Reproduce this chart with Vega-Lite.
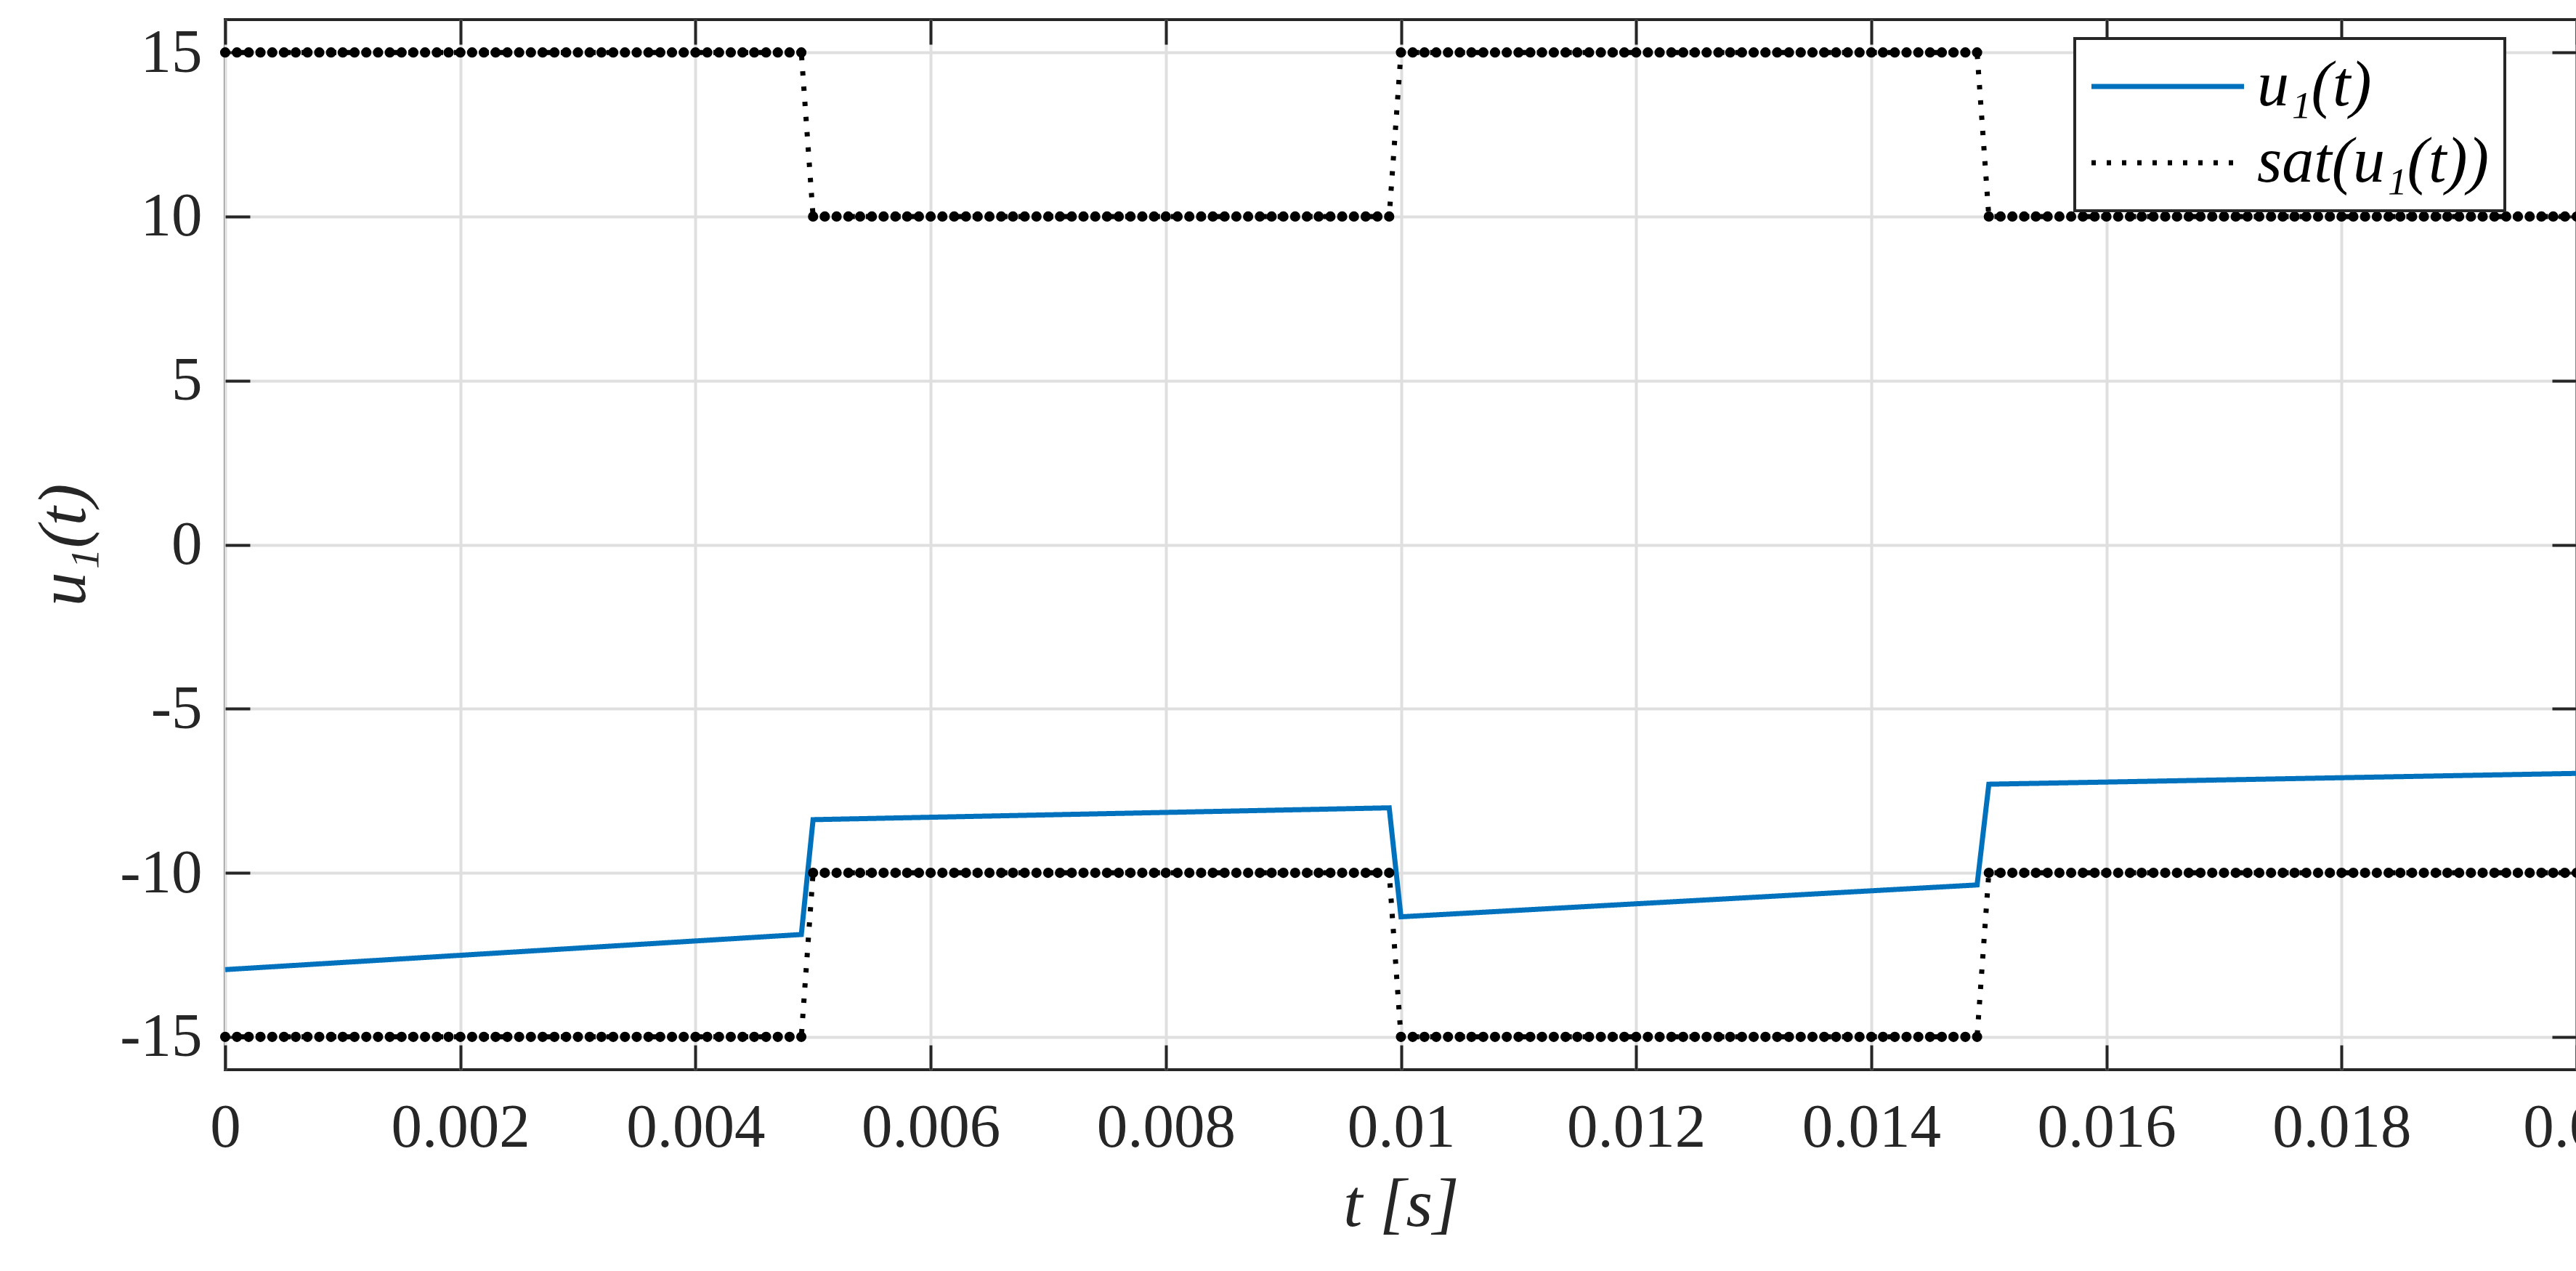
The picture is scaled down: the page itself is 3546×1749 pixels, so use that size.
{
"$schema": "https://vega.github.io/schema/vega-lite/v6.json",
"autosize": {"type": "none"},
"width": 3237,
"height": 1445,
"padding": {"left": 310, "top": 27, "right": 0, "bottom": 277},
"background": "white",
"config": {
  "view": {"stroke": "#262626", "strokeWidth": 4},
  "font": "Liberation Serif",
  "axis": {"labelFont": "Liberation Serif", "labelFontSize": 85, "labelColor": "#262626", "labelLimit": 0, "titleFont": "Liberation Serif", "titleFontSize": 94, "titleFontStyle": "italic", "titleFontWeight": "normal", "titleColor": "#262626", "domain": false, "tickColor": "#262626", "tickWidth": 4, "tickSize": -34, "gridColor": "#DFDFDF", "gridWidth": 4, "gridOpacity": 1},
  "legend": {"strokeWidth": 4}
},
"datasets": {
  "u": [{"t":0,"v":-12.95},{"t":0.0049,"v":-11.88},{"t":0.005,"v":-8.38},{"t":0.0099,"v":-8.02},{"t":0.01,"v":-11.34},{"t":0.0149,"v":-10.37},{"t":0.015,"v":-7.3},{"t":0.02,"v":-6.97}],
  "sat": [
{"t":0.0000,"hi":15,"lo":-15},{"t":0.0001,"hi":15,"lo":-15},{"t":0.0002,"hi":15,"lo":-15},{"t":0.0003,"hi":15,"lo":-15},{"t":0.0004,"hi":15,"lo":-15},{"t":0.0005,"hi":15,"lo":-15},{"t":0.0006,"hi":15,"lo":-15},{"t":0.0007,"hi":15,"lo":-15},{"t":0.0008,"hi":15,"lo":-15},{"t":0.0009,"hi":15,"lo":-15},
{"t":0.0010,"hi":15,"lo":-15},{"t":0.0011,"hi":15,"lo":-15},{"t":0.0012,"hi":15,"lo":-15},{"t":0.0013,"hi":15,"lo":-15},{"t":0.0014,"hi":15,"lo":-15},{"t":0.0015,"hi":15,"lo":-15},{"t":0.0016,"hi":15,"lo":-15},{"t":0.0017,"hi":15,"lo":-15},{"t":0.0018,"hi":15,"lo":-15},{"t":0.0019,"hi":15,"lo":-15},
{"t":0.0020,"hi":15,"lo":-15},{"t":0.0021,"hi":15,"lo":-15},{"t":0.0022,"hi":15,"lo":-15},{"t":0.0023,"hi":15,"lo":-15},{"t":0.0024,"hi":15,"lo":-15},{"t":0.0025,"hi":15,"lo":-15},{"t":0.0026,"hi":15,"lo":-15},{"t":0.0027,"hi":15,"lo":-15},{"t":0.0028,"hi":15,"lo":-15},{"t":0.0029,"hi":15,"lo":-15},
{"t":0.0030,"hi":15,"lo":-15},{"t":0.0031,"hi":15,"lo":-15},{"t":0.0032,"hi":15,"lo":-15},{"t":0.0033,"hi":15,"lo":-15},{"t":0.0034,"hi":15,"lo":-15},{"t":0.0035,"hi":15,"lo":-15},{"t":0.0036,"hi":15,"lo":-15},{"t":0.0037,"hi":15,"lo":-15},{"t":0.0038,"hi":15,"lo":-15},{"t":0.0039,"hi":15,"lo":-15},
{"t":0.0040,"hi":15,"lo":-15},{"t":0.0041,"hi":15,"lo":-15},{"t":0.0042,"hi":15,"lo":-15},{"t":0.0043,"hi":15,"lo":-15},{"t":0.0044,"hi":15,"lo":-15},{"t":0.0045,"hi":15,"lo":-15},{"t":0.0046,"hi":15,"lo":-15},{"t":0.0047,"hi":15,"lo":-15},{"t":0.0048,"hi":15,"lo":-15},{"t":0.0049,"hi":15,"lo":-15},
{"t":0.0050,"hi":10,"lo":-10},{"t":0.0051,"hi":10,"lo":-10},{"t":0.0052,"hi":10,"lo":-10},{"t":0.0053,"hi":10,"lo":-10},{"t":0.0054,"hi":10,"lo":-10},{"t":0.0055,"hi":10,"lo":-10},{"t":0.0056,"hi":10,"lo":-10},{"t":0.0057,"hi":10,"lo":-10},{"t":0.0058,"hi":10,"lo":-10},{"t":0.0059,"hi":10,"lo":-10},
{"t":0.0060,"hi":10,"lo":-10},{"t":0.0061,"hi":10,"lo":-10},{"t":0.0062,"hi":10,"lo":-10},{"t":0.0063,"hi":10,"lo":-10},{"t":0.0064,"hi":10,"lo":-10},{"t":0.0065,"hi":10,"lo":-10},{"t":0.0066,"hi":10,"lo":-10},{"t":0.0067,"hi":10,"lo":-10},{"t":0.0068,"hi":10,"lo":-10},{"t":0.0069,"hi":10,"lo":-10},
{"t":0.0070,"hi":10,"lo":-10},{"t":0.0071,"hi":10,"lo":-10},{"t":0.0072,"hi":10,"lo":-10},{"t":0.0073,"hi":10,"lo":-10},{"t":0.0074,"hi":10,"lo":-10},{"t":0.0075,"hi":10,"lo":-10},{"t":0.0076,"hi":10,"lo":-10},{"t":0.0077,"hi":10,"lo":-10},{"t":0.0078,"hi":10,"lo":-10},{"t":0.0079,"hi":10,"lo":-10},
{"t":0.0080,"hi":10,"lo":-10},{"t":0.0081,"hi":10,"lo":-10},{"t":0.0082,"hi":10,"lo":-10},{"t":0.0083,"hi":10,"lo":-10},{"t":0.0084,"hi":10,"lo":-10},{"t":0.0085,"hi":10,"lo":-10},{"t":0.0086,"hi":10,"lo":-10},{"t":0.0087,"hi":10,"lo":-10},{"t":0.0088,"hi":10,"lo":-10},{"t":0.0089,"hi":10,"lo":-10},
{"t":0.0090,"hi":10,"lo":-10},{"t":0.0091,"hi":10,"lo":-10},{"t":0.0092,"hi":10,"lo":-10},{"t":0.0093,"hi":10,"lo":-10},{"t":0.0094,"hi":10,"lo":-10},{"t":0.0095,"hi":10,"lo":-10},{"t":0.0096,"hi":10,"lo":-10},{"t":0.0097,"hi":10,"lo":-10},{"t":0.0098,"hi":10,"lo":-10},{"t":0.0099,"hi":10,"lo":-10},
{"t":0.0100,"hi":15,"lo":-15},{"t":0.0101,"hi":15,"lo":-15},{"t":0.0102,"hi":15,"lo":-15},{"t":0.0103,"hi":15,"lo":-15},{"t":0.0104,"hi":15,"lo":-15},{"t":0.0105,"hi":15,"lo":-15},{"t":0.0106,"hi":15,"lo":-15},{"t":0.0107,"hi":15,"lo":-15},{"t":0.0108,"hi":15,"lo":-15},{"t":0.0109,"hi":15,"lo":-15},
{"t":0.0110,"hi":15,"lo":-15},{"t":0.0111,"hi":15,"lo":-15},{"t":0.0112,"hi":15,"lo":-15},{"t":0.0113,"hi":15,"lo":-15},{"t":0.0114,"hi":15,"lo":-15},{"t":0.0115,"hi":15,"lo":-15},{"t":0.0116,"hi":15,"lo":-15},{"t":0.0117,"hi":15,"lo":-15},{"t":0.0118,"hi":15,"lo":-15},{"t":0.0119,"hi":15,"lo":-15},
{"t":0.0120,"hi":15,"lo":-15},{"t":0.0121,"hi":15,"lo":-15},{"t":0.0122,"hi":15,"lo":-15},{"t":0.0123,"hi":15,"lo":-15},{"t":0.0124,"hi":15,"lo":-15},{"t":0.0125,"hi":15,"lo":-15},{"t":0.0126,"hi":15,"lo":-15},{"t":0.0127,"hi":15,"lo":-15},{"t":0.0128,"hi":15,"lo":-15},{"t":0.0129,"hi":15,"lo":-15},
{"t":0.0130,"hi":15,"lo":-15},{"t":0.0131,"hi":15,"lo":-15},{"t":0.0132,"hi":15,"lo":-15},{"t":0.0133,"hi":15,"lo":-15},{"t":0.0134,"hi":15,"lo":-15},{"t":0.0135,"hi":15,"lo":-15},{"t":0.0136,"hi":15,"lo":-15},{"t":0.0137,"hi":15,"lo":-15},{"t":0.0138,"hi":15,"lo":-15},{"t":0.0139,"hi":15,"lo":-15},
{"t":0.0140,"hi":15,"lo":-15},{"t":0.0141,"hi":15,"lo":-15},{"t":0.0142,"hi":15,"lo":-15},{"t":0.0143,"hi":15,"lo":-15},{"t":0.0144,"hi":15,"lo":-15},{"t":0.0145,"hi":15,"lo":-15},{"t":0.0146,"hi":15,"lo":-15},{"t":0.0147,"hi":15,"lo":-15},{"t":0.0148,"hi":15,"lo":-15},{"t":0.0149,"hi":15,"lo":-15},
{"t":0.0150,"hi":10,"lo":-10},{"t":0.0151,"hi":10,"lo":-10},{"t":0.0152,"hi":10,"lo":-10},{"t":0.0153,"hi":10,"lo":-10},{"t":0.0154,"hi":10,"lo":-10},{"t":0.0155,"hi":10,"lo":-10},{"t":0.0156,"hi":10,"lo":-10},{"t":0.0157,"hi":10,"lo":-10},{"t":0.0158,"hi":10,"lo":-10},{"t":0.0159,"hi":10,"lo":-10},
{"t":0.0160,"hi":10,"lo":-10},{"t":0.0161,"hi":10,"lo":-10},{"t":0.0162,"hi":10,"lo":-10},{"t":0.0163,"hi":10,"lo":-10},{"t":0.0164,"hi":10,"lo":-10},{"t":0.0165,"hi":10,"lo":-10},{"t":0.0166,"hi":10,"lo":-10},{"t":0.0167,"hi":10,"lo":-10},{"t":0.0168,"hi":10,"lo":-10},{"t":0.0169,"hi":10,"lo":-10},
{"t":0.0170,"hi":10,"lo":-10},{"t":0.0171,"hi":10,"lo":-10},{"t":0.0172,"hi":10,"lo":-10},{"t":0.0173,"hi":10,"lo":-10},{"t":0.0174,"hi":10,"lo":-10},{"t":0.0175,"hi":10,"lo":-10},{"t":0.0176,"hi":10,"lo":-10},{"t":0.0177,"hi":10,"lo":-10},{"t":0.0178,"hi":10,"lo":-10},{"t":0.0179,"hi":10,"lo":-10},
{"t":0.0180,"hi":10,"lo":-10},{"t":0.0181,"hi":10,"lo":-10},{"t":0.0182,"hi":10,"lo":-10},{"t":0.0183,"hi":10,"lo":-10},{"t":0.0184,"hi":10,"lo":-10},{"t":0.0185,"hi":10,"lo":-10},{"t":0.0186,"hi":10,"lo":-10},{"t":0.0187,"hi":10,"lo":-10},{"t":0.0188,"hi":10,"lo":-10},{"t":0.0189,"hi":10,"lo":-10},
{"t":0.0190,"hi":10,"lo":-10},{"t":0.0191,"hi":10,"lo":-10},{"t":0.0192,"hi":10,"lo":-10},{"t":0.0193,"hi":10,"lo":-10},{"t":0.0194,"hi":10,"lo":-10},{"t":0.0195,"hi":10,"lo":-10},{"t":0.0196,"hi":10,"lo":-10},{"t":0.0197,"hi":10,"lo":-10},{"t":0.0198,"hi":10,"lo":-10},{"t":0.0199,"hi":10,"lo":-10},
{"t":0.0200,"hi":10,"lo":-10}
  ]
},
"resolve": {"axis": {"x": "independent", "y": "independent"}},
"layer": [
  {
    "data": {"name": "u"},
    "mark": {"type": "line", "strokeWidth": 7},
    "encoding": {
      "x": {"field": "t", "type": "quantitative", "scale": {"domain": [0, 0.02], "nice": false, "zero": false},
            "axis": {"orient": "bottom", "values": [0,0.002,0.004,0.006,0.008,0.01,0.012,0.014,0.016,0.018,0.02], "format": ".3~f", "title": "t [s]", "labelPadding": 72, "titlePadding": 18, "grid": true, "labelFlush": false, "labelOverlap": false, "labelBound": false}},
      "y": {"field": "v", "type": "quantitative", "scale": {"domain": [-16, 16], "nice": false, "zero": false},
            "axis": {"orient": "left", "values": [-15,-10,-5,0,5,10,15], "labelExpr": "replace(datum.label, '−', '-')", "title": "u₁(t)", "labelPadding": 66, "titlePadding": 28, "grid": true, "labelOverlap": false}},
      "color": {"datum": "u₁(t)", "type": "nominal", "scale": {"domain": ["u₁(t)", "sat(u₁(t))"], "range": ["#0072BD", "#000000"]},
                "legend": {"title": null, "orient": "none", "legendX": 2546, "legendY": 26, "strokeColor": "#262626", "fillColor": "white", "padding": 22, "labelFont": "Liberation Serif", "labelFontSize": 88, "labelFontStyle": "italic", "labelColor": "black", "labelLimit": 0, "symbolType": "M-5,0L5,0", "symbolSize": 1764, "symbolOffset": 62, "symbolStrokeWidth": 7, "labelOffset": 79, "rowPadding": 17}},
      "strokeDash": {"datum": "u₁(t)", "type": "nominal", "scale": {"domain": ["u₁(t)", "sat(u₁(t))"], "range": [[1, 0], [6, 15]]}}
    }
  },
  {
    "data": {"name": "sat"},
    "transform": [{"fold": ["hi", "lo"], "as": ["k", "val"]}],
    "mark": {"type": "line", "strokeWidth": 7},
    "encoding": {
      "x": {"field": "t", "type": "quantitative", "scale": {"domain": [0, 0.02], "nice": false, "zero": false},
            "axis": {"orient": "top", "values": [0,0.002,0.004,0.006,0.008,0.01,0.012,0.014,0.016,0.018,0.02], "labels": false, "grid": false, "title": null}},
      "y": {"field": "val", "type": "quantitative", "scale": {"domain": [-16, 16], "nice": false, "zero": false},
            "axis": {"orient": "right", "values": [-15,-10,-5,0,5,10,15], "labels": false, "grid": false, "title": null}},
      "detail": {"field": "k", "type": "nominal"},
      "color": {"datum": "sat(u₁(t))", "type": "nominal"},
      "strokeDash": {"datum": "sat(u₁(t))", "type": "nominal"}
    }
  },
  {
    "data": {"name": "sat"},
    "transform": [{"fold": ["hi", "lo"], "as": ["k", "val"]}],
    "mark": {"type": "circle", "size": 200, "color": "#000000", "opacity": 1},
    "encoding": {
      "x": {"field": "t", "type": "quantitative", "scale": {"domain": [0, 0.02], "nice": false, "zero": false}, "axis": null},
      "y": {"field": "val", "type": "quantitative", "scale": {"domain": [-16, 16], "nice": false, "zero": false}, "axis": null}
    }
  }
]
}
